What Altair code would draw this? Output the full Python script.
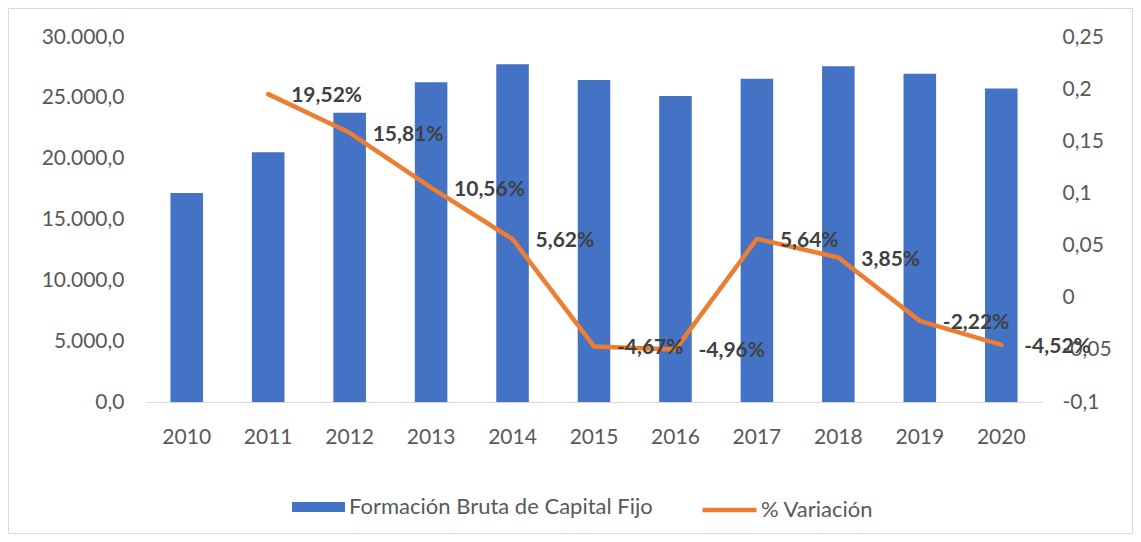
import altair as alt
import pandas as pd

years = ["2010", "2011", "2012", "2013", "2014", "2015", "2016", "2017", "2018", "2019", "2020"]
fbkf = [17180, 20530, 23780, 26290, 27765, 26470, 25155, 26575, 27600, 26985, 25765]
variacion = [None, 0.1952, 0.1581, 0.1056, 0.0562, -0.0467, -0.0496, 0.0564, 0.0385, -0.0222, -0.0452]
left_ticks = [0, 5000, 10000, 15000, 20000, 25000, 30000]
right_ticks = [-0.1, -0.05, 0, 0.05, 0.1, 0.15, 0.2, 0.25]

BAR_NAME = "Formación Bruta de Capital Fijo"
LINE_NAME = "% Variación"
FONT = "Lato"
FS = 21
LFS = 22
W, H = 896, 365
PL, PT, PR, PB = 138, 29, 91, 132

df = pd.DataFrame({"year": years, "fbkf": fbkf, "pct": variacion})
df["bar_s"] = BAR_NAME
df["line_s"] = LINE_NAME

xenc = alt.X("year:O", title=None,
             scale=alt.Scale(paddingInner=0.6, paddingOuter=0.3),
             axis=alt.Axis(labelAngle=0, labelFont=FONT, labelFontSize=FS, labelColor="#595959",
                           labelPadding=24, ticks=False, domainColor="#d9d9d9", domainWidth=1, grid=False))

base = alt.Chart(df)

border = alt.Chart(pd.DataFrame({"a": [0]})).mark_rect(
    fill="transparent", stroke="#d9d9d9", strokeWidth=1
).encode(x=alt.value(-PL + 0.5), x2=alt.value(W + PR - 0.5),
         y=alt.value(-PT + 0.5), y2=alt.value(H + PB - 0.5))

bars = base.mark_bar(color="#4472C4").encode(
    x=xenc,
    y=alt.Y("fbkf:Q", title=None,
            scale=alt.Scale(domain=[0, 30000], nice=False),
            axis=alt.Axis(values=left_ticks, format=",.1f", labelFont=FONT, labelFontSize=FS,
                          labelColor="#595959", labelPadding=22, ticks=False, domain=False, grid=False)),
    color=alt.Color("bar_s:N", title=None,
                    scale=alt.Scale(domain=[BAR_NAME], range=["#4472C4"]),
                    legend=alt.Legend(orient="none", legendX=146, legendY=443.5, padding=0,
                                      symbolType="M-1,-0.19L1,-0.19L1,0.19L-1,0.19Z",
                                      symbolSize=2809, symbolStrokeWidth=0, symbolOpacity=1,
                                      labelFont=FONT, labelFontSize=LFS, labelColor="#595959",
                                      labelOffset=4, labelLimit=500)),
)

yright = alt.Y("pct:Q", title=None,
               scale=alt.Scale(domain=[-0.1, 0.25], nice=False),
               axis=alt.Axis(orient="right", values=right_ticks, format=".2~f", labelFont=FONT,
                             labelFontSize=FS, labelColor="#595959", labelPadding=20,
                             ticks=False, domain=False, grid=False))

line = base.transform_filter("datum.pct != null").mark_line(
    strokeWidth=4.5, strokeCap="round", strokeJoin="round"
).encode(
    x=xenc,
    y=yright,
    stroke=alt.Stroke("line_s:N", title=None,
                      scale=alt.Scale(domain=[LINE_NAME], range=["#ED7D31"]),
                      legend=alt.Legend(orient="none", legendX=554, legendY=443.5, padding=0,
                                        symbolType="stroke", symbolSize=2916, symbolStrokeWidth=4.5,
                                        labelFont=FONT, labelFontSize=LFS, labelColor="#595959",
                                        labelOffset=2, labelLimit=500)),
)

labels = base.transform_filter("datum.pct != null").transform_calculate(
    lab="format(datum.pct, '.2%')"
).mark_text(align="left", baseline="middle", dx=23, dy=2, font=FONT, fontSize=FS,
            fontWeight="bold", color="#404040").encode(
    x=xenc,
    y=yright,
    text="lab:N",
)

right_layer = alt.layer(line, labels)

chart = alt.layer(border, bars, right_layer).resolve_scale(
    y="independent", color="independent", stroke="independent"
).properties(
    width=W, height=H,
    background="white",
    autosize=alt.AutoSizeParams(type="none"),
    padding={"left": PL, "top": PT, "right": PR, "bottom": PB},
).configure_view(strokeWidth=0, stroke="transparent")

chart.save("out.html", embed_options={
    "renderer": "svg", "actions": False,
    "formatLocale": {"decimal": ",", "thousands": ".", "grouping": [3],
                     "currency": ["", " €"], "minus": "-"},
})
